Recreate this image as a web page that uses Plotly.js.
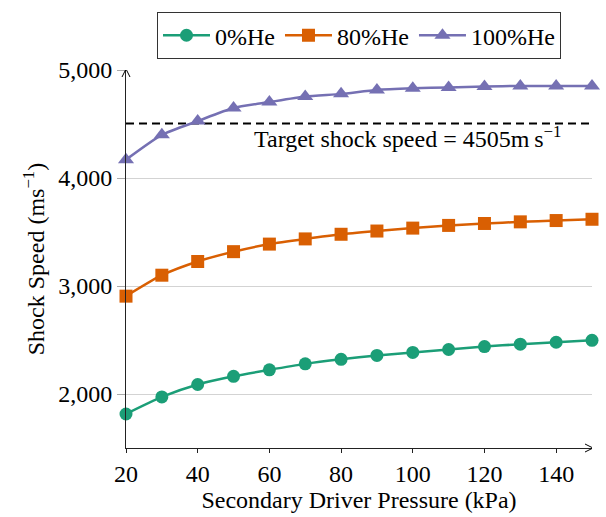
<!DOCTYPE html>
<html>
<head>
<meta charset="utf-8">
<script src="https://cdn.plot.ly/plotly-3.0.1.min.js"></script>
<style>html,body{margin:0;padding:0;background:#fff;}#chart{width:606px;height:517px;}</style>
</head>
<body>
<div id="chart"></div>
<script>
const pressure = [20, 30, 40, 50, 60, 70, 80, 90, 100, 110, 120, 130, 140, 150];
const he0 = [1815, 1973, 2088, 2164, 2224, 2279, 2321, 2357, 2385, 2412, 2439, 2461, 2479, 2497];
const he80 = [2906, 3100, 3227, 3318, 3388, 3436, 3479, 3509, 3536, 3561, 3579, 3594, 3606, 3618];
const he100 = [4170, 4400, 4527, 4648, 4703, 4755, 4779, 4815, 4830, 4839, 4848, 4852, 4852, 4852];
const seriesNames = ["0%He", "80%He", "100%He"];
const targetSpeed = 4505;
const xTicks = [20, 40, 60, 80, 100, 120, 140];
const yTicks = [2000, 3000, 4000, 5000];

const FONT = "Liberation Serif";
const FS = 24;
const colors = ["#1b9e77", "#d95f02", "#7570b3"];
const symbols = ["circle", "square", "triangle-up"];
const sizes = [13, 13, 14];
const allSeries = [he0, he80, he100];

const traces = [{
  x: [pressure[0], pressure[pressure.length - 1]],
  y: [targetSpeed, targetSpeed],
  mode: "lines",
  line: {color: "#000", width: 2, dash: "8px,5px"},
  showlegend: false,
  hoverinfo: "skip",
  cliponaxis: false
}];
allSeries.forEach((s, i) => {
  traces.push({
    x: pressure, y: s, name: seriesNames[i],
    mode: "lines+markers",
    line: {color: colors[i], width: 2.5, shape: "spline", smoothing: 0.6},
    marker: {color: colors[i], symbol: symbols[i], size: sizes[i], line: {width: 0}},
    cliponaxis: false
  });
});

const layout = {
  width: 606, height: 517,
  margin: {l: 126, r: 14, t: 63, b: 69},
  paper_bgcolor: "#fff", plot_bgcolor: "#fff",
  font: {family: FONT, size: FS, color: "#000"},
  showlegend: true,
  legend: {
    orientation: "h", x: 0.5, xanchor: "center", y: 1.153, yanchor: "top",
    bordercolor: "#333", borderwidth: 1, font: {family: FONT, size: FS},
    itemwidth: 47, tracegroupgap: 0, traceorder: "normal"
  },
  xaxis: {
    range: [20, 150], tickvals: xTicks, showgrid: false, zeroline: false,
    showline: true, linecolor: "#222", linewidth: 1,
    ticks: "outside", ticklen: 4, tickcolor: "#222",
    tickfont: {family: FONT, size: FS},
    title: {text: "Secondary Driver Pressure (kPa)", font: {family: FONT, size: FS}, standoff: 4}
  },
  yaxis: {
    range: [1500, 5000], tickvals: yTicks, tickformat: ",d",
    showgrid: true, gridcolor: "#d3d3d3", gridwidth: 1, zeroline: false,
    showline: true, linecolor: "#222", linewidth: 1,
    ticks: "outside", ticklen: 8, tickcolor: "#aaa",
    tickfont: {family: FONT, size: FS},
    title: {text: "Shock Speed (ms<sup>−1</sup>)", font: {family: FONT, size: FS}, standoff: 6}
  },
  shapes: [
    {type: "path", xref: "x", yref: "paper", xsizemode: "pixel", ysizemode: "pixel",
     xanchor: 150, yanchor: 0, path: "M -7 4 L 1 0 L -7 -4", fillcolor: "rgba(0,0,0,0)",
     line: {color: "#000", width: 1}},
    {type: "path", xref: "paper", yref: "y", xsizemode: "pixel", ysizemode: "pixel",
     xanchor: 0, yanchor: 5000, path: "M -4 -7 L 0 1 L 4 -7", fillcolor: "rgba(0,0,0,0)",
     line: {color: "#000", width: 1}}
  ],
  annotations: [
    {xref: "paper", yref: "paper", x: 0.605, y: 0.824, xanchor: "center", yanchor: "middle",
     text: "Target shock speed = 4505m\u2009s<sup>−1</sup>", showarrow: false,
     font: {family: FONT, size: FS, color: "#000"}}
  ]
};

Plotly.newPlot("chart", traces, layout, {displayModeBar: false, staticPlot: true});
</script>
</body>
</html>
